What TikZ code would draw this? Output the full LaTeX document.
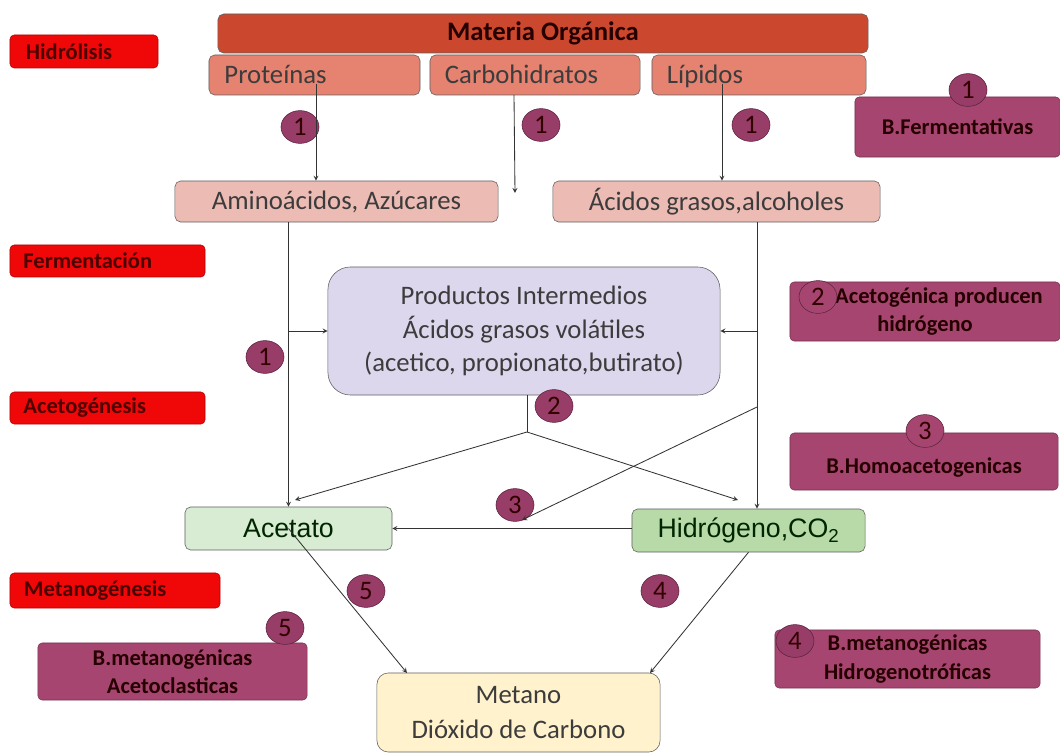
\documentclass[tikz,border=0pt]{standalone}
\usepackage{fontspec}
\setmainfont{Carlito}
\newfontfamily\arialfont{Liberation Sans}
\usepackage{tikz}
\usetikzlibrary{shapes,arrows,positioning}

\definecolor{materia}{RGB}{203,72,46}
\definecolor{macro}{RGB}{229,130,112}
\definecolor{fase}{RGB}{240,8,8}
\definecolor{rosa}{RGB}{236,187,180}
\definecolor{lavanda}{RGB}{221,215,238}
\definecolor{verdeA}{RGB}{216,235,211}
\definecolor{verdeH}{RGB}{184,218,168}
\definecolor{crema}{RGB}{255,242,204}
\definecolor{bact}{RGB}{166,70,112}
\definecolor{paso}{RGB}{152,60,104}
\definecolor{borde}{RGB}{95,95,95}
\definecolor{texto}{RGB}{60,60,60}

\begin{document}
\begin{tikzpicture}[x=0.025cm,y=-0.025cm,>=stealth,
    box/.style={draw=borde,rounded corners=4pt,text=texto,font=\fontsize{19}{22}\selectfont,inner sep=2pt},
    macrobox/.style={box,fill=macro,minimum height=1cm,text height=14pt,text depth=2pt,align=left},
    fasebox/.style={draw=fase!70!black,fill=fase,rounded corners=3pt,text=black!70!red,font=\bfseries\fontsize{16}{18}\selectfont,align=left,inner sep=2pt},
    bactbox/.style={draw=bact!70!black,fill=bact,rounded corners=3pt,text=black!85!red,font=\bfseries\fontsize{16}{20}\selectfont,align=center,inner sep=2pt},
    pasoc/.style={ellipse,draw=paso!60!black,fill=paso,text=black!80!red,minimum width=0.95cm,minimum height=0.82cm,inner sep=0pt,font=\fontsize{19}{19}\selectfont},
    flow/.style={->,draw=black!80,line width=0.6pt}]
\useasboundingbox (0,0) rectangle (1060,753);

% materia organica
\node (Materia) [box,fill=materia,text=black!85!red,font=\bfseries\fontsize{19}{21}\selectfont,minimum width=16.25cm,minimum height=0.975cm] at (543,33.5) {Materia Orgánica};
\node (Proteinas) [macrobox,minimum width=5.275cm,text width=4.5cm] at (314.5,75) {Proteínas};
\node (Carbo) [macrobox,minimum width=5.25cm,text width=4.5cm] at (535,75) {Carbohidratos};
\node (Lipidos) [macrobox,minimum width=5.35cm,text width=4.6cm] at (759,75) {Lípidos};

% fases
\node (Hidrolisis) [fasebox,minimum width=3.7cm,minimum height=0.825cm,text width=2.9cm] at (84,51.5) {Hidrólisis};
\node (Ferment) [fasebox,minimum width=4.875cm,minimum height=0.8cm,text width=4.2cm] at (107.5,261) {Fermentación};
\node (Acetog) [fasebox,minimum width=4.875cm,minimum height=0.8cm,text width=4.2cm] at (107.5,408) {Acetogénesis};
\node (Metanog) [fasebox,minimum width=5.25cm,minimum height=0.875cm,text width=4.55cm] at (115,590.5) {Metanogénesis};

% productos
\node (Amino) [box,fill=rosa,minimum width=8.075cm,minimum height=1.025cm] at (336.5,201.5) {Aminoácidos, Azúcares};
\node (AcidosG) [box,fill=rosa,minimum width=8.175cm,minimum height=1.025cm] at (716.5,201.5) {Ácidos grasos,alcoholes};
\node (Productos) [box,fill=lavanda,rounded corners=16pt,minimum width=9.8cm,minimum height=3.2cm,align=center,font=\fontsize{19}{24}\selectfont] at (524,331)
    {Productos Intermedios\\Ácidos grasos volátiles\\(acetico, propionato,butirato)};
\node (Acetato) [box,fill=verdeA,text=black!75!green!60!black,font=\arialfont\fontsize{19}{21}\selectfont,minimum width=5.175cm,minimum height=1.075cm] at (288.5,528.5) {Acetato};
\node (Hidrogeno) [box,fill=verdeH,text=black!75!green!60!black,font=\arialfont\fontsize{19}{21}\selectfont,minimum width=5.825cm,minimum height=1.075cm] at (748.5,530.5) {Hidrógeno,CO\textsubscript{2}};
\node (Metano) [box,fill=crema,rounded corners=8pt,minimum width=7.075cm,minimum height=1.975cm,align=center,font=\fontsize{19}{25}\selectfont] at (518.5,712.5) {Metano\\Dióxido de Carbono};

% bacterias
\node (BFerm) [bactbox,minimum width=5.125cm,minimum height=1.5cm] at (957.5,127) {B.Fermentativas};
\node (BAcetog) [bactbox,minimum width=6.75cm,minimum height=1.475cm] at (925,311.5) {\hspace*{0.7cm}Acetogénica producen\\hidrógeno};
\node (BHomo) [bactbox,minimum width=6.7cm,minimum height=1.425cm] at (924,461.5) {\\B.Homoacetogenicas};
\node (BHidro) [bactbox,minimum width=6.625cm,minimum height=1.45cm] at (907.5,659) {B.metanogénicas\\Hidrogenotróficas};
\node (BAceto) [bactbox,minimum width=6.725cm,minimum height=1.425cm] at (172.5,671.5) {B.metanogénicas\\Acetoclasticas};

% numeros de pasos
\node (P1a) [pasoc] at (300,127) {1};
\node (P1b) [pasoc] at (541,125) {1};
\node (P1c) [pasoc] at (751,125) {1};
\node (P1d) [pasoc] at (265,357) {1};
\node (P2a) [pasoc] at (554,406) {2};
\node (P3a) [pasoc] at (515,505) {3};
\node (P5a) [pasoc] at (366,591) {5};
\node (P4a) [pasoc] at (660,591) {4};
\node (L1) [pasoc] at (968,90) {1};
\node (L2) [pasoc,fill=bact] at (818,297) {2};
\node (L3) [pasoc,fill=bact] at (925,431) {3};
\node (L4) [pasoc] at (795,641) {4};
\node (L5) [pasoc] at (285,628) {5};

% hidrolisis
\coordinate (pStart) at (316,84);
\coordinate (cStart) at (514,95);
\coordinate (cEnd) at (515,193);
\coordinate (lStart) at (722,84);
\draw[flow] (pStart) -- (pStart |- Amino.north);
\draw[flow] (cStart) -- (cEnd);
\draw[flow] (lStart) -- (lStart |- AcidosG.north);

% fermentacion
\draw[flow] (Amino.south -| Acetato.north) -- (Acetato.north);
\draw[flow] (Productos.west -| Acetato.north) -- (Productos.west);
\coordinate (gDown) at (757,222);
\draw[flow] (gDown) -- (gDown |- Hidrogeno.north);
\draw[flow] (Productos.east -| gDown) -- (Productos.east);

% acetogenesis
\coordinate (split) at (527,432);
\coordinate (aIn) at (295,500);
\coordinate (hIn) at (738,500);
\draw[line width=0.6pt,black!80] (Productos.south -| split) -- (split);
\draw[flow] (split) -- (aIn);
\draw[flow] (split) -- (hIn);
\coordinate (xStart) at (757,407);
\coordinate (xEnd) at (522,520);
\draw[flow] (xStart) -- (xEnd);
\draw[flow] (Hidrogeno.west |- Acetato.east) -- (Acetato.east);

% metanogenesis
\coordinate (mIn1) at (407,673);
\coordinate (mIn2) at (650,673);
\draw[flow] (Acetato.center) -- (mIn1);
\draw[flow] (Hidrogeno.south) -- (mIn2);
\end{tikzpicture}
\end{document}
